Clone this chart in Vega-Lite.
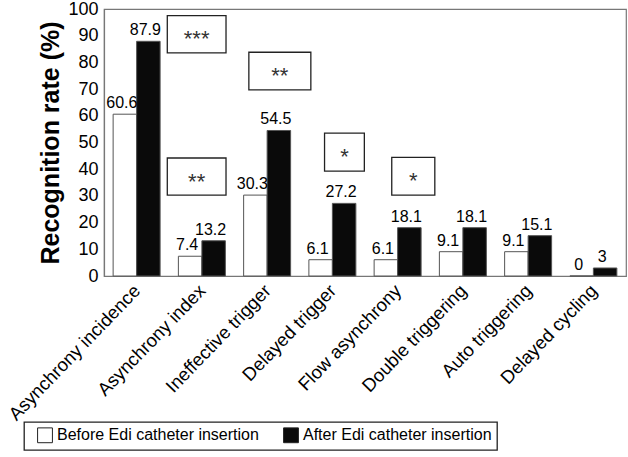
{
  "$schema": "https://vega.github.io/schema/vega-lite/v6.json",
  "autosize": {"type": "none"},
  "padding": {"left": 104, "top": 9, "right": 2, "bottom": 181},
  "width": 522,
  "height": 267,
  "background": "white",
  "datasets": {
    "bars": [
      {"category": "Asynchrony incidence", "group": "Before Edi catheter insertion", "value": 60.6},
      {"category": "Asynchrony incidence", "group": "After Edi catheter insertion", "value": 87.9},
      {"category": "Asynchrony index", "group": "Before Edi catheter insertion", "value": 7.4},
      {"category": "Asynchrony index", "group": "After Edi catheter insertion", "value": 13.2},
      {"category": "Ineffective trigger", "group": "Before Edi catheter insertion", "value": 30.3},
      {"category": "Ineffective trigger", "group": "After Edi catheter insertion", "value": 54.5},
      {"category": "Delayed trigger", "group": "Before Edi catheter insertion", "value": 6.1},
      {"category": "Delayed trigger", "group": "After Edi catheter insertion", "value": 27.2},
      {"category": "Flow asynchrony", "group": "Before Edi catheter insertion", "value": 6.1},
      {"category": "Flow asynchrony", "group": "After Edi catheter insertion", "value": 18.1},
      {"category": "Double triggering", "group": "Before Edi catheter insertion", "value": 9.1},
      {"category": "Double triggering", "group": "After Edi catheter insertion", "value": 18.1},
      {"category": "Auto triggering", "group": "Before Edi catheter insertion", "value": 9.1},
      {"category": "Auto triggering", "group": "After Edi catheter insertion", "value": 15.1},
      {"category": "Delayed cycling", "group": "Before Edi catheter insertion", "value": 0},
      {"category": "Delayed cycling", "group": "After Edi catheter insertion", "value": 3}
    ],
    "boxes": [
      {"label": "***", "x1": 0.97, "x2": 1.87, "xm": 1.42, "y1": 97.5, "y2": 83.6, "ym": 90.5},
      {"label": "**", "x1": 0.97, "x2": 1.87, "xm": 1.42, "y1": 44.2, "y2": 30.3, "ym": 37.2},
      {"label": "**", "x1": 2.22, "x2": 3.17, "xm": 2.695, "y1": 83.8, "y2": 69.7, "ym": 76.7},
      {"label": "*", "x1": 3.38, "x2": 3.99, "xm": 3.685, "y1": 53.5, "y2": 39.3, "ym": 46.4},
      {"label": "*", "x1": 4.41, "x2": 5.07, "xm": 4.74, "y1": 44.4, "y2": 30.3, "ym": 37.3}
    ]
  },
  "layer": [
    {
      "data": {"name": "bars"},
      "encoding": {
        "x": {
          "field": "category", "type": "nominal", "sort": null,
          "scale": {"paddingInner": 0.28, "paddingOuter": 0.14},
          "axis": {"title": null, "labelAngle": -46, "labelAlign": "right", "labelBaseline": "top", "labelOffset": -6, "labelPadding": 5, "labelFontSize": 18.5, "labelLimit": 300}
        },
        "xOffset": {
          "field": "group", "type": "nominal",
          "sort": ["Before Edi catheter insertion", "After Edi catheter insertion"],
          "scale": {"paddingInner": 0, "paddingOuter": 0}
        },
        "y": {
          "field": "value", "type": "quantitative",
          "scale": {"domain": [0, 100], "nice": false},
          "axis": {"values": [0, 10, 20, 30, 40, 50, 60, 70, 80, 90, 100], "title": "Recognition rate (%)"}
        }
      },
      "layer": [
        {
          "mark": {"type": "bar", "stroke": "#555", "strokeWidth": 1},
          "encoding": {
            "color": {
              "field": "group", "type": "nominal",
              "sort": ["Before Edi catheter insertion", "After Edi catheter insertion"],
              "scale": {"domain": ["Before Edi catheter insertion", "After Edi catheter insertion"], "range": ["#ffffff", "#0a0a0a"]},
              "legend": {"title": null, "orient": "none", "legendX": -80, "legendY": 413, "direction": "horizontal", "labelLimit": 400}
            }
          }
        },
        {
          "mark": {"type": "text", "baseline": "bottom", "dy": -3, "dx": -3, "fontSize": 16, "color": "black"},
          "encoding": {
            "text": {"field": "value", "type": "quantitative"}
          }
        }
      ]
    },
    {
      "data": {"name": "boxes"},
      "layer": [
        {
          "mark": {"type": "rect", "fill": "white", "stroke": "#222", "strokeWidth": 1.3},
          "encoding": {
            "x": {"field": "x1", "type": "quantitative", "scale": {"domain": [0, 8], "nice": false, "zero": false}, "axis": null},
            "x2": {"field": "x2"},
            "y": {"field": "y1", "type": "quantitative", "axis": {"values": [0, 10, 20, 30, 40, 50, 60, 70, 80, 90, 100], "title": "Recognition rate (%)"}},
            "y2": {"field": "y2"}
          }
        },
        {
          "mark": {"type": "text", "fontSize": 22, "baseline": "middle", "dy": 5, "color": "#333"},
          "encoding": {
            "x": {"field": "xm", "type": "quantitative", "scale": {"domain": [0, 8], "nice": false, "zero": false}, "axis": null},
            "y": {"field": "ym", "type": "quantitative", "axis": {"values": [0, 10, 20, 30, 40, 50, 60, 70, 80, 90, 100], "title": "Recognition rate (%)"}},
            "text": {"field": "label"}
          }
        }
      ]
    }
  ],
  "resolve": {"scale": {"x": "independent"}},
  "config": {
    "font": "Liberation Sans",
    "view": {"stroke": "#777", "strokeWidth": 1.2},
    "axis": {"domainColor": "#777", "domainWidth": 1.2, "ticks": false, "grid": false, "labelColor": "black", "titleColor": "black", "labelFont": "Liberation Sans", "titleFont": "Liberation Sans"},
    "axisY": {"labelFontSize": 18, "titleFontSize": 25, "titleFontWeight": "bold", "labelPadding": 6, "titlePadding": 4},
    "legend": {"strokeColor": "#222", "strokeWidth": 1.3, "padding": 5, "symbolType": "square", "symbolSize": 220, "symbolStrokeColor": "#222", "symbolStrokeWidth": 1, "labelFontSize": 16, "labelColor": "black", "columnPadding": 16, "symbolOffset": 8, "labelOffset": 4}
  }
}
